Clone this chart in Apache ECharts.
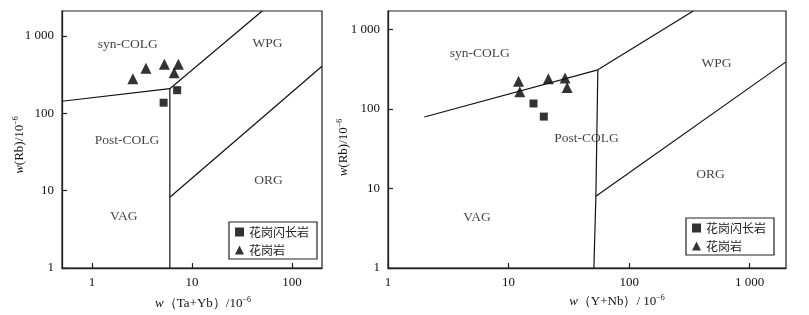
<!DOCTYPE html>
<html>
<head>
<meta charset="utf-8">
<script src="https://cdn.jsdelivr.net/npm/echarts@6/dist/echarts.min.js"></script>
<style>
  html, body { margin: 0; padding: 0; background: #fff; }
  #chart { width: 809px; height: 315px; }
</style>
</head>
<body>
<div id="chart"></div>
<script>
// sample data: Rb vs (Ta+Yb)
const taYbGranodiorite = [[5.2, 137], [7.1, 199]];
const taYbGranite = [[2.56, 280], [3.46, 382], [5.29, 431], [7.31, 431], [6.62, 335]];
// sample data: Rb vs (Y+Nb)
const yNbGranodiorite = [[16.1, 117], [19.6, 80]];
const yNbGranite = [[12.1, 222], [12.4, 164], [21.4, 240], [29.4, 245], [30.6, 186]];

// discrimination boundaries (Pearce et al., 1984)
const taYbSynVag = [[0.5, 143], [6, 208]];
const taYbVertical = [[6, 208], [6, 1]];
const taYbSynWpg = [[6, 208], [50.4, 2100]];
const taYbWpgOrg = [[6, 8.2], [200, 405]];

const yNbSynVag = [[2, 79], [55, 310]];
const yNbVertical = [[55, 310], [53, 8], [51, 1]];
const yNbSynWpg = [[55, 310], [340, 1700]];
const yNbWpgOrg = [[53, 8], [2000, 390]];

// field names and where they sit
const fieldNames = ['syn-COLG', 'WPG', 'Post-COLG', 'ORG', 'VAG'];
const taYbFieldPos = [[2.28, 783], [57, 807], [2.23, 45], [58.3, 13.4], [2.08, 4.6]];
const yNbFieldPos = [[5.77, 497], [531, 371], [44.3, 42.4], [474, 14.9], [5.48, 4.3]];

const tickValues = [1, 10, 100, 1000];
const legendNames = ['花岗闪长岩', '花岗岩'];

const FONT = '"Liberation Serif", "Times New Roman", serif';
const INK = '#111';

function fmtTick(v) {
  return v >= 1000 ? String(v).replace(/\B(?=(\d{3})+$)/g, ' ') : String(v);
}

function logAxis(gridIndex, min, max, extra) {
  return Object.assign({
    type: 'log',
    logBase: 10,
    gridIndex,
    min,
    max,
    axisLine: { show: true, onZero: false, lineStyle: { color: '#222', width: 1.3 } },
    axisTick: { show: true, inside: true, length: 5, customValues: tickValues, lineStyle: { color: '#222', width: 1.2 } },
    axisLabel: { customValues: tickValues, formatter: fmtTick, color: INK, fontFamily: FONT, fontSize: 13 },
    splitLine: { show: false },
    nameLocation: 'middle',
    nameTextStyle: { color: INK, fontFamily: FONT, fontSize: 13 },
  }, extra);
}

const nameRich = {
  i: { fontStyle: 'italic', fontFamily: FONT, fontSize: 13, color: INK },
  s: { fontSize: 8, fontFamily: FONT, color: INK, padding: [0, 0, 7, 0] },
};

function boundary(data, xi) {
  return {
    type: 'line', data, xAxisIndex: xi, yAxisIndex: xi,
    symbol: 'none', silent: true,
    lineStyle: { color: '#111', width: 1.2 },
  };
}

function fields(pos, xi) {
  return {
    type: 'scatter', xAxisIndex: xi, yAxisIndex: xi,
    symbolSize: 0, silent: true,
    data: pos.map((p, k) => [p[0], p[1], fieldNames[k]]),
    label: {
      show: true, position: 'inside', formatter: p => p.data[2],
      color: INK, fontFamily: FONT, fontSize: 13.5,
    },
  };
}

function samples(name, data, xi, symbol, size) {
  return {
    type: 'scatter', name, data, xAxisIndex: xi, yAxisIndex: xi,
    symbol, symbolSize: size, itemStyle: { color: '#000' },
  };
}

function legendAt(left, top) {
  return {
    data: legendNames.map(n => ({ name: n })),
    orient: 'vertical', left, top,
    borderColor: '#222', borderWidth: 1.2,
    padding: [4, 8, 3, 6], itemGap: 6,
    itemWidth: 9, itemHeight: 9,
    textStyle: { color: '#222', fontFamily: '"Noto Sans CJK SC", sans-serif', fontSize: 12 },
    selectedMode: false,
  };
}

const chart = echarts.init(document.getElementById('chart'));
chart.setOption({
  animation: false,
  grid: [
    { left: 62, top: 11, right: 487, bottom: 47, outerBoundsMode: 'none', containLabel: false, show: true, borderColor: '#222', borderWidth: 1.2 },
    { left: 388, top: 11, right: 23, bottom: 47, outerBoundsMode: 'none', containLabel: false, show: true, borderColor: '#222', borderWidth: 1.2 },
  ],
  xAxis: [
    logAxis(0, 0.5, 200, {
      name: '{i|w}（Ta+Yb）/10{s|−6}', nameGap: 28,
      nameTextStyle: { color: INK, fontFamily: FONT, fontSize: 13, rich: nameRich, padding: [0, 0, 0, 22] },
    }),
    logAxis(1, 1, 2000, {
      name: '{i|w}（Y+Nb）/ 10{s|−6}', nameGap: 26,
      nameTextStyle: { color: INK, fontFamily: FONT, fontSize: 13, rich: nameRich, padding: [0, 0, 0, 60] },
    }),
  ],
  yAxis: [
    logAxis(0, 1, 2100, {
      name: '{i|w}(Rb)/10{s|−6}', nameGap: 35, nameRotate: 90, nameMoveOverlap: false,
      nameTextStyle: { color: INK, fontFamily: FONT, fontSize: 13, rich: nameRich, padding: [0, 11, 0, 0] },
    }),
    logAxis(1, 1, 1700, {
      name: '{i|w}(Rb)/10{s|−6}', nameGap: 37, nameRotate: 90, nameMoveOverlap: false,
      nameTextStyle: { color: INK, fontFamily: FONT, fontSize: 13, rich: nameRich, padding: [0, 16, 0, 0] },
    }),
  ],
  legend: [legendAt(229, 222), legendAt(686, 218)],
  series: [
    boundary(taYbSynVag, 0),
    boundary(taYbVertical, 0),
    boundary(taYbSynWpg, 0),
    boundary(taYbWpgOrg, 0),
    boundary(yNbSynVag, 1),
    boundary(yNbVertical, 1),
    boundary(yNbSynWpg, 1),
    boundary(yNbWpgOrg, 1),
    fields(taYbFieldPos, 0),
    fields(yNbFieldPos, 1),
    samples('花岗闪长岩', taYbGranodiorite, 0, 'rect', 8),
    samples('花岗岩', taYbGranite, 0, 'triangle', 11),
    samples('花岗闪长岩', yNbGranodiorite, 1, 'rect', 8),
    samples('花岗岩', yNbGranite, 1, 'triangle', 11),
  ],
});
</script>
</body>
</html>
